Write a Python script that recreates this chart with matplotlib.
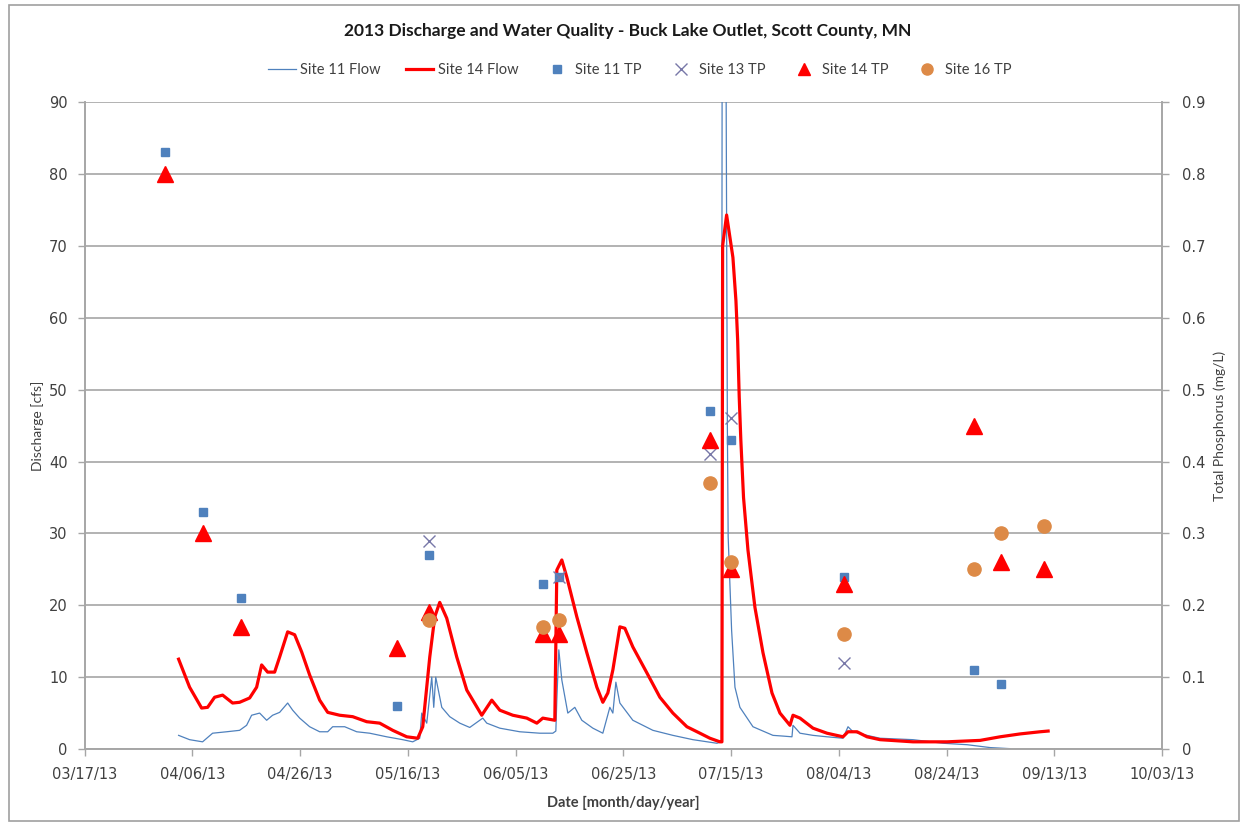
import matplotlib
matplotlib.use("Agg")
import matplotlib.pyplot as plt
import matplotlib.dates as mdates
from matplotlib.lines import Line2D
from matplotlib.patches import Rectangle
import numpy as np
import pandas as pd

START = "2013-03-17"

# flow records: elapsed days since START, discharge in cfs
site11_day = [17.46, 19.50, 21.91, 23.77, 26.37, 28.78, 30.08, 31.01, 32.50, 33.80,
              34.91, 36.21, 37.70, 38.63, 39.93, 41.78, 43.64, 45.13, 46.05, 48.28,
              50.51, 52.92, 56.08, 59.05, 60.91, 62.21, 62.58, 63.51, 64.44, 64.81,
              65.18, 66.30, 67.78, 69.64, 71.49, 73.91, 74.65, 77.07, 80.78, 84.49,
              86.91, 87.47, 87.65, 88.02, 88.58, 89.69, 90.99, 92.29, 94.34, 96.19,
              97.49, 98.05, 98.61, 99.35, 101.76, 105.48, 109.19, 112.91, 117.36, 118.20,
              118.35, 118.98, 119.30, 119.45, 120.09, 120.71, 121.63, 124.05, 127.76, 129.62,
              131.29, 131.48, 132.78, 135.19, 137.79, 140.76, 141.69, 142.62, 145.22, 147.63,
              153.76, 159.33, 163.79, 168.06, 171.77]
site11_flow = [1.9, 1.3, 1.0, 2.2, 2.4, 2.6, 3.3, 4.7, 5.0, 4.0,
               4.7, 5.1, 6.4, 5.4, 4.3, 3.1, 2.4, 2.4, 3.1, 3.1,
               2.4, 2.2, 1.7, 1.3, 1.0, 1.5, 5.0, 3.6, 10.0, 5.8,
               10.0, 5.8, 4.5, 3.6, 3.0, 4.3, 3.6, 2.9, 2.4, 2.2,
               2.2, 2.5, 6.8, 13.8, 9.6, 5.0, 5.8, 4.0, 2.9, 2.2,
               5.8, 5.0, 9.3, 6.4, 4.0, 2.6, 1.9, 1.3, 0.8, 1.0,
               110.0, 110.0, 45.0, 29.5, 16.5, 8.6, 5.8, 3.1, 1.9, 1.8,
               1.7, 3.3, 2.2, 1.9, 1.7, 1.5, 3.1, 2.4, 1.9, 1.5,
               1.3, 0.8, 0.6, 0.2, 0.05]

site14_day = [17.46, 19.50, 21.73, 22.84, 24.14, 25.63, 27.48, 28.78, 30.64, 31.94,
              32.87, 33.98, 35.28, 36.21, 37.70, 39.00, 40.30, 41.78, 43.64, 45.13,
              47.35, 49.77, 52.37, 54.78, 57.20, 59.80, 61.84, 62.77, 64.07, 65.00,
              65.92, 67.22, 69.08, 70.94, 73.72, 75.58, 77.07, 79.48, 82.08, 83.94,
              85.05, 87.28, 87.65, 88.58, 89.51, 91.36, 93.22, 95.08, 96.19, 97.12,
              98.05, 99.35, 100.28, 101.76, 104.36, 106.78, 109.19, 111.79, 114.21, 116.06,
              117.92, 118.29, 118.42, 119.16, 120.33, 120.89, 121.21, 121.50, 121.80, 122.30,
              123.12, 124.42, 125.91, 127.58, 129.06, 130.92, 131.48, 132.78, 135.19, 137.79,
              140.76, 141.69, 143.36, 145.22, 147.63, 153.76, 160.07, 166.20, 169.92, 173.63,
              177.34, 178.83]
site14_flow = [12.5, 8.6, 5.7, 5.8, 7.2, 7.5, 6.4, 6.5, 7.1, 8.6,
               11.7, 10.7, 10.7, 12.8, 16.3, 15.9, 13.5, 10.3, 6.8, 5.1,
               4.7, 4.5, 3.8, 3.6, 2.6, 1.7, 1.5, 3.1, 12.8, 18.4,
               20.4, 18.2, 12.8, 8.2, 4.7, 6.8, 5.4, 4.7, 4.3, 3.6,
               4.3, 4.0, 24.9, 26.3, 23.9, 18.4, 13.4, 8.6, 6.5, 7.8,
               11.0, 17.0, 16.8, 14.2, 10.6, 7.2, 5.0, 3.1, 2.2, 1.5,
               1.0, 1.0, 70.0, 74.3, 68.4, 62.4, 56.9, 49.0, 43.0, 35.0,
               27.7, 19.7, 13.4, 7.8, 5.0, 3.3, 4.7, 4.3, 2.9, 2.2,
               1.7, 2.4, 2.4, 1.7, 1.3, 1.0, 1.0, 1.2, 1.7, 2.1,
               2.4, 2.5]

# total phosphorus grab samples (mg/L)
tp11_date = ["2013-04-01", "2013-04-08", "2013-04-15", "2013-05-14", "2013-05-20", "2013-06-10",
             "2013-06-13", "2013-07-11", "2013-07-15", "2013-08-05", "2013-08-29", "2013-09-03"]
tp11 = [0.83, 0.33, 0.21, 0.06, 0.27, 0.23, 0.24, 0.47, 0.43, 0.24, 0.11, 0.09]

tp13_date = ["2013-05-20", "2013-06-10", "2013-06-13", "2013-07-11", "2013-07-15", "2013-08-05"]
tp13 = [0.29, 0.16, 0.24, 0.41, 0.46, 0.12]

tp14_date = ["2013-04-01", "2013-04-08", "2013-04-15", "2013-05-14", "2013-05-20", "2013-06-10",
             "2013-06-13", "2013-07-11", "2013-07-15", "2013-08-05", "2013-08-29", "2013-09-03",
             "2013-09-11"]
tp14 = [0.80, 0.30, 0.17, 0.14, 0.19, 0.16, 0.16, 0.43, 0.25, 0.23, 0.45, 0.26, 0.25]

tp16_date = ["2013-05-20", "2013-06-10", "2013-06-13", "2013-07-11", "2013-07-15", "2013-08-05",
             "2013-08-29", "2013-09-03", "2013-09-11"]
tp16 = [0.18, 0.17, 0.18, 0.37, 0.26, 0.16, 0.25, 0.30, 0.31]

BLUE = "#4f81bd"
RED = "#ff0000"
XCOL = "#7878a8"
ORANGE = "#dd8a47"
GRID = "#a6a6a6"
TXT = "#404040"

plt.rcParams["font.family"] = ["Lato", "DejaVu Sans"]

t0 = pd.Timestamp(START)
t11 = t0 + pd.to_timedelta(site11_day, unit="D")
t14 = t0 + pd.to_timedelta(site14_day, unit="D")

fig = plt.figure(figsize=(12.43, 8.24), dpi=100)
fig.patches.append(Rectangle((0.007, 0.004), 0.99, 0.99, transform=fig.transFigure,
                             fill=False, edgecolor="#a0a0a0", lw=1.2))
ax = fig.add_axes([0.068, 0.091, 0.867, 0.785])
ax2 = ax.twinx()

ax.plot(t11, site11_flow, color=BLUE, lw=0.9)
ax.plot(t14, site14_flow, color=RED, lw=2.3)

ax2.plot(pd.to_datetime(tp11_date), tp11, ls="none", marker="s", ms=6, color=BLUE)
ax2.plot(pd.to_datetime(tp13_date), tp13, ls="none", marker="x", ms=9, mew=1.0, color=XCOL)
ax2.plot(pd.to_datetime(tp14_date), tp14, ls="none", marker="^", ms=11, color=RED)
ax2.plot(pd.to_datetime(tp16_date), tp16, ls="none", marker="o", ms=9.5, color=ORANGE)

ax.set_xlim(pd.Timestamp("2013-03-17"), pd.Timestamp("2013-10-03"))
ax.set_ylim(0, 90)
ax2.set_ylim(0, 0.9)
ax.set_yticks(np.arange(0, 91, 10))
ax2.set_yticks(np.arange(0, 0.91, 0.1))
ax2.set_yticklabels(["0"] + ["%.1f" % v for v in np.arange(0.1, 0.91, 0.1)])
ticks = pd.date_range("2013-03-17", "2013-10-03", freq="20D")
ax.set_xticks(ticks)
ax.xaxis.set_major_formatter(mdates.DateFormatter("%m/%d/%y"))

ax.grid(axis="y", color=GRID, lw=1.2)
ax.set_axisbelow(True)
for a in (ax, ax2):
    a.spines["top"].set_visible(False)
    for s in ("left", "right", "bottom"):
        a.spines[s].set_color(GRID)
        a.spines[s].set_linewidth(1.2)
    a.tick_params(colors=TXT, labelsize=10.5, length=5, width=1, color=GRID)
    for lab in a.get_xticklabels() + a.get_yticklabels():
        lab.set_family("DejaVu Sans")
ax.tick_params(axis="y", pad=7)
ax2.tick_params(axis="y", pad=9)
ax.tick_params(axis="x", pad=8)

ax.set_ylabel("Discharge [cfs]", fontsize=10, color=TXT, labelpad=4)
ax2.set_ylabel("Total Phosphorus (mg/L)", fontsize=10, color=TXT, labelpad=6)
ax.set_xlabel("Date [month/day/year]", fontsize=10.5, fontweight="bold", color=TXT, labelpad=10)

fig.suptitle("2013 Discharge and Water Quality - Buck Lake Outlet, Scott County, MN",
             x=0.505, y=0.972, fontsize=12.5, fontweight="bold", color="#1a1a1a")

handles = [Line2D([], [], color=BLUE, lw=0.9),
           Line2D([], [], color=RED, lw=2.3),
           Line2D([], [], ls="none", marker="s", ms=6, color=BLUE),
           Line2D([], [], ls="none", marker="x", ms=9, color=XCOL),
           Line2D([], [], ls="none", marker="^", ms=9, color=RED),
           Line2D([], [], ls="none", marker="o", ms=8, color=ORANGE)]
labels = ["Site 11 Flow", "Site 14 Flow", "Site 11 TP", "Site 13 TP", "Site 14 TP", "Site 16 TP"]
fig.legend(handles, labels, loc="center", bbox_to_anchor=(0.515, 0.915), ncol=6,
           frameon=False, fontsize=10.5, handlelength=1.9, columnspacing=1.7,
           handletextpad=0.3, labelcolor=TXT)

fig.savefig("out.png", dpi=100)
